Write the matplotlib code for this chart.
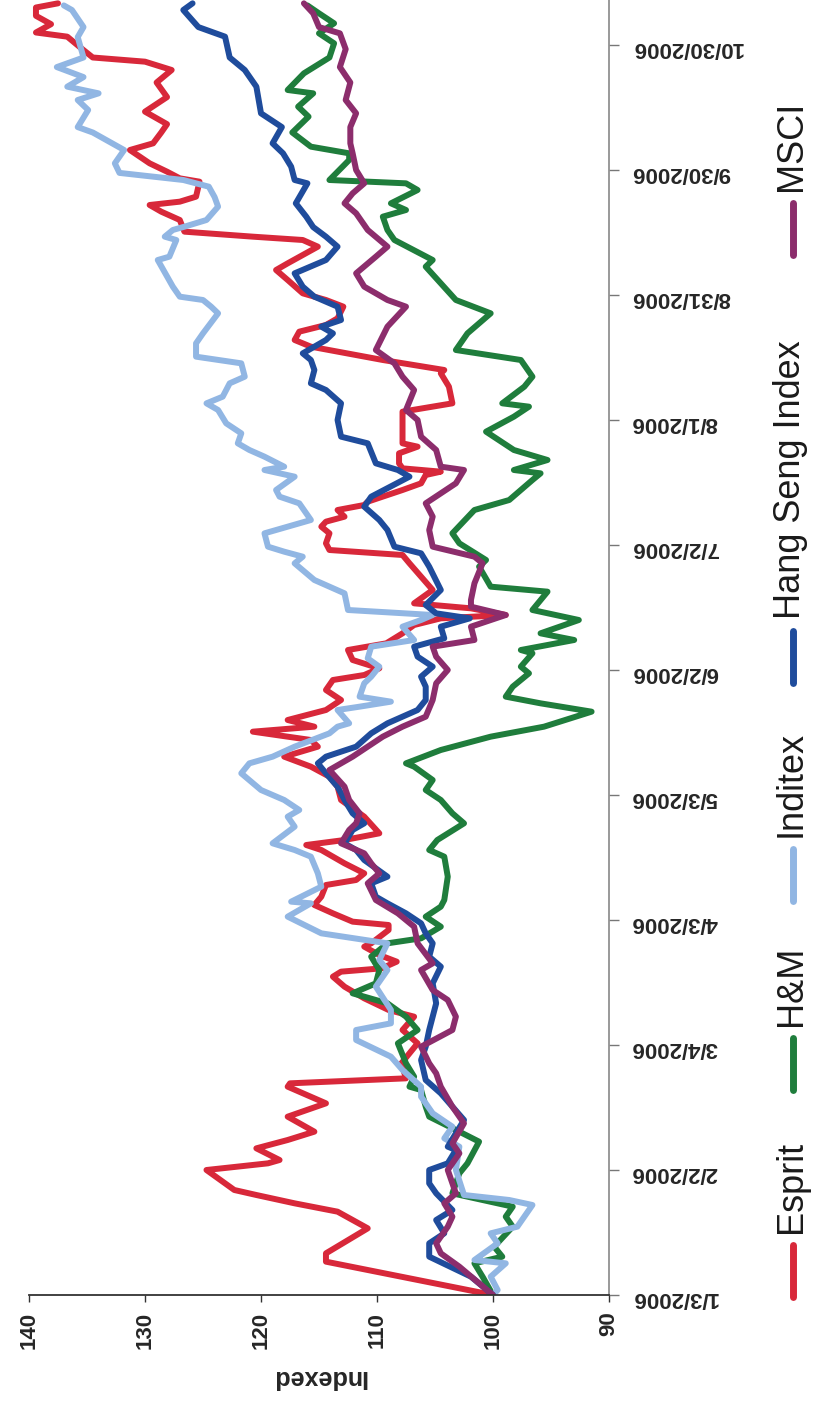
import numpy as np
import pandas as pd
import matplotlib
matplotlib.use('Agg')
import matplotlib.pyplot as plt
from matplotlib.lines import Line2D

plt.rcParams['font.family'] = ['Liberation Sans', 'DejaVu Sans']

start = pd.Timestamp('2006-01-03')

# days after 1/3/2006 and indexed value
esprit_days = [0, 8, 10, 16, 20, 22, 24, 25.2, 30, 31.6, 32.4, 35.2, 37.2, 39.2, 42.8, 46, 50, 50.8, 52,
               55.6, 60.4, 63.6, 66.8, 68.4, 71.2, 74, 76.4, 77.6, 78.4, 80, 81.6, 83.6, 84.4, 87.6, 88.8,
               89.6, 91.6, 93.6, 95.6, 98.4, 99.6, 101.2, 103.6, 106.8, 108, 109.2, 110.8, 114.8, 118.8,
               122, 124.4, 126.8, 129.2, 131.6, 133.2, 135.2, 136.4, 138, 140.4, 142.8, 145.2, 147.6,
               148.8, 150.4, 152.4, 154.8, 156.4, 158.8, 160.8, 162.4, 163.2, 164.8, 166, 169.2, 172.4,
               175.6, 177.6, 178.8, 180.4, 182.8, 184.4, 185.6, 186.8, 188.4, 189.6, 190.4, 193.2, 194.8,
               196.8, 197.6, 198.4, 199.6, 202, 203.6, 204.4, 212, 214, 218, 221.2, 222, 224.4, 227.6,
               229.2, 231.2, 232.8, 234.4, 237.2, 238.8, 240.4, 243.6, 246, 247.6, 249.6, 251.6, 253.2,
               254, 255.2, 258, 260, 261.6, 262.4, 263.6, 267.2, 268, 269.6, 271.6, 274.8, 276.4, 279,
               281, 284, 287.5, 291, 294, 296, 297, 299, 302, 303, 305, 307, 309, 310]
esprit_vals = [100, 114.4, 114.4, 110.8, 113.4, 117.1, 120.4, 122.3, 124.7, 119.4, 118.4, 120.4, 117.7,
               115.4, 117.7, 114.4, 117.7, 117.5, 107.5,
               107.9, 106.5, 107.8, 106.8, 109.0, 111.1, 112.8, 113.8, 113.1, 109.6, 108.3, 109.8, 111.1,
               110.5, 109.0, 109.0, 112.1, 113.8, 115.4, 114.8, 114.4, 111.8, 111.1, 112.8, 114.8, 116.1,
               112.8, 109.8, 111.1, 113.1, 113.4, 114.1, 115.7, 118.0, 115.1, 115.7, 120.7, 115.4, 117.7,
               114.4, 113.1, 114.4, 113.8, 111.1, 109.8, 112.1, 112.5, 109.2, 107.8, 106.8, 104.5, 98.9,
               101.9, 106.8, 105.2, 106.2, 107.2, 107.8, 114.1, 114.4, 114.1, 114.8, 114.4, 112.8, 113.4,
               111.1, 110.8, 107.8, 106.2, 105.8, 104.5, 107.8, 108.1, 108.1, 106.5, 107.8, 107.8, 103.5,
               103.8, 104.5, 104.2, 109.5, 115.7, 117.1, 116.7, 114.4, 113.4, 112.9, 114.4, 116.4, 117.7,
               118.7, 117.7, 116.4, 115.1, 116.4, 120.7, 126.6, 127.0, 128.6, 129.6, 127.0, 125.6, 125.3,
               127.0, 128.1, 129.6, 131.3, 129.3, 128.6, 128.1, 130.0, 128.1, 129.0, 127.7, 130.0, 134.5,
               135.4, 136.7, 139.4, 138.1, 139.4, 139.4, 137.5]

hm_days = [0, 4.4, 7.6, 9.2, 11.6, 16.4, 18.8, 21.2, 24.4, 29.2, 31.6, 36.8, 39.2, 42.8, 45.2, 49.2, 50,
           52.4, 55.6, 60.4, 63.6, 66.8, 70, 72.4, 74.8, 78, 81.2, 84.4, 85.6, 88.4, 90.8, 93.2, 94.8,
           100.4, 105.2, 106.8, 109.2, 113.2, 115.6, 118.8, 121.2, 123.6, 126.8, 127.6, 130.8, 134,
           136.4, 140, 142, 143.6, 146, 149.2, 150.8, 154, 154.8, 157.2, 158.8, 162, 164.4, 168.8, 170,
           174.8, 176.4, 180.4, 182.8, 188.4, 190.8, 195.6, 197.2, 198, 200.4, 202.8, 207.2, 210.8,
           213.2, 214, 218, 220.4, 224.4, 226.8, 230.8, 235.6, 238.8, 242.8, 246.8, 248.4, 253.2, 255.6,
           258.8, 260.4, 262, 265.2, 266.8, 267.6, 272.4, 274, 275.6, 279, 282.8, 285.2, 288.4, 289.2,
           293.2, 297, 300.4, 302.8, 305.2, 307.6, 309.5]
hm_vals = [100, 100.9, 101.6, 99.2, 99.9, 98.3, 98.9, 98.3, 103.5, 102.9, 102.2, 101.2, 102.9, 105.5,
           105.8, 106.2, 107.2, 106.8, 107.5, 108.2, 106.5, 107.5, 109.1, 112.1, 110.1, 109.8, 110.5,
           109.1, 106.2, 104.5, 105.8, 104.5, 104.2, 103.9, 104.2, 105.5, 104.8, 102.5, 103.5, 104.5,
           105.8, 105.2, 106.8, 107.5, 104.5, 100.2, 95.6, 91.5, 95.9, 98.9, 98.3, 96.9, 97.6, 96.6,
           97.6, 93.0, 95.9, 92.6, 96.6, 95.3, 100.2, 101.2, 100.6, 102.9, 103.5, 101.6, 98.6, 96.6,
           95.9, 98.2, 95.3, 98.2, 100.6, 98.2, 96.9, 99.2, 97.3, 96.6, 97.6, 103.2, 102.2, 100.2, 103.2,
           104.5, 105.8, 105.2, 108.5, 109.1, 109.5, 107.5, 108.8, 106.5, 107.5, 114.1, 112.4, 112.4,
           115.7, 117.3, 115.9, 116.8, 115.5, 117.7, 116.3, 114.1, 113.7, 115.0, 113.7, 115.0, 116.0]

inditex_days = [0, 1.2, 4.4, 7.6, 8.4, 9.2, 12.4, 14.8, 16.4, 21.6, 22.8, 24, 30, 35.6, 37.6, 40.4, 43.6,
                47.6, 50, 54, 57.2, 61.2, 63.6, 65.2, 68.4, 74, 78, 80.4, 84.4, 86.8, 90.8, 92.4, 94,
                94.4, 98, 101.2, 105.2, 106.8, 108.4, 112.4, 114.8, 116.4, 118.8, 121.2, 125.2, 127.6,
                129.2, 131.6, 134.8, 136.4, 137.2, 140.4, 141.2, 142.4, 143.6, 146.8, 148.4, 150.8,
                152.8, 155.6, 157.2, 160.4, 162, 163.2, 164.4, 168.4, 171.6, 175.6, 177.2, 178.4, 179.6,
                182.8, 184.4, 186, 190, 191.6, 193.2, 196.4, 198, 198.8, 201.2, 202.8, 204.4, 206.8,
                209.2, 212.4, 214, 215.6, 218.8, 220.4, 223.6, 225.2, 228.4, 230.8, 235.6, 237.2, 238.8,
                239.6, 242, 248.4, 249.2, 253.2, 254, 255.6, 256.4, 258, 261.2, 263.5, 266, 267.6, 269.3,
                271.6, 274.8, 279, 280.3, 284.4, 286.8, 288.4, 290, 292.3, 294.7, 297, 301.9, 304.3,
                308.4, 309.5]
inditex_vals = [100, 99.6, 100.2, 98.9, 101.6, 101.2, 99.6, 100.2, 97.9, 96.6, 98.6, 102.5, 103.2, 102.9,
                104.2, 103.5, 105.2, 106.2, 106.2, 107.8, 108.8, 111.8, 111.8, 108.8, 108.8, 110.1, 109.1,
                109.8, 109.1, 114.8, 117.7, 116.7, 115.7, 117.4, 114.8, 115.1, 115.7, 117.1, 119.0, 117.1,
                117.7, 116.7, 118.0, 120.0, 121.7, 121.0, 119.0, 117.1, 114.1, 113.4, 112.4, 113.4, 111.5,
                108.8, 111.5, 111.1, 110.5, 109.8, 110.8, 110.5, 106.8, 107.8, 106.2, 105.2, 112.5, 112.8,
                115.4, 117.1, 116.4, 118.0, 119.4, 119.7, 117.7, 115.7, 116.7, 118.4, 118.7, 117.1, 119.7,
                118.0, 119.7, 121.0, 122.0, 121.7, 123.0, 123.7, 124.7, 123.3, 122.7, 121.4, 121.7, 125.6,
                125.6, 125.0, 123.7, 124.3, 125.0, 127.0, 127.6, 128.9, 127.9, 127.3, 128.3, 127.6, 126.6,
                124.7, 123.7, 124.0, 124.5, 126.7, 132.2, 132.6, 131.8, 134.5, 135.8, 134.9, 135.8, 134.0,
                136.7, 135.3, 137.6, 135.3, 135.8, 135.3, 136.3, 137.0]

hsi_days = [0, 4.4, 9.2, 12.4, 14.8, 18, 20.4, 24.4, 26.8, 30, 31.6, 34.8, 35.6, 42, 45.2, 48.4, 51.6,
            56.4, 59.6, 63.6, 70, 74.8, 78.8, 81.2, 84.4, 86.8, 89.2, 91.6, 94, 95.6, 98.8, 100.4, 104.4,
            106.8, 108.4, 111.6, 113.2, 115.6, 118.8, 122, 125.2, 127.6, 129.2, 131.6, 134.8, 137.2,
            140.4, 142.8, 146, 148.4, 150.8, 153.2, 155.6, 157.6, 160.4, 162.4, 163.6, 165.6, 169.2,
            174.8, 178, 179.6, 183.6, 186, 189.2, 191.6, 196.4, 198, 199.6, 204.4, 206, 210, 214, 217.2,
            218.8, 222, 224.4, 226, 229.2, 230.8, 232.4, 234, 237.2, 239.6, 242, 245.2, 248.4, 251.6,
            254, 256.3, 258.8, 262, 266.8, 267.6, 270.8, 274, 276.4, 280.3, 283.6, 290, 294, 297, 302,
            304.3, 308.4, 310]
hsi_vals = [100, 101.9, 105.5, 105.5, 104.2, 104.9, 103.5, 104.9, 105.5, 105.5, 103.9, 103.2, 103.9,
            102.5, 103.5, 104.5, 105.8, 106.2, 105.8, 105.5, 104.9, 105.2, 104.5, 105.5, 105.2, 105.8,
            106.2, 107.5, 109.1, 110.1, 110.5, 109.1, 111.1, 111.8, 112.8, 112.1, 111.1, 112.1, 112.8,
            113.4, 114.4, 115.1, 114.4, 111.8, 110.5, 109.1, 106.5, 105.8, 105.8, 106.2, 105.2, 106.5,
            106.8, 104.2, 104.5, 102.0, 104.9, 105.8, 104.5, 105.5, 106.2, 108.5, 109.1, 109.8, 111.1,
            110.5, 107.2, 108.2, 110.1, 110.8, 113.1, 113.4, 113.1, 114.4, 115.7, 115.4, 115.7, 116.4,
            114.4, 113.8, 114.8, 113.1, 113.4, 115.4, 116.4, 117.1, 114.4, 113.4, 114.4, 115.5, 116.1,
            117.0, 116.0, 117.1, 117.4, 118.1, 119.0, 118.2, 120.0, 120.4, 121.4, 122.7, 123.1, 125.4,
            126.7, 125.9]

msci_days = [0, 6.8, 10, 12.4, 16.4, 18.8, 22, 24.4, 30, 34, 36.4, 41.2, 45.2, 50, 53.2, 55.6, 59.6,
             63.6, 66.8, 70.8, 73.2, 78, 79.6, 84.4, 88.4, 91.6, 94.8, 98.8, 101.2, 103.6, 106, 108.4,
             111.6, 113.2, 115.6, 118.8, 122, 126, 129.2, 134, 136.4, 138.8, 142.8, 146.8, 150, 153.2,
             155.6, 157.2, 160.4, 163.2, 165.2, 166.8, 170.8, 175.6, 177.2, 179.6, 183.6, 186.8, 190,
             194.8, 198, 198.8, 202.8, 206, 210, 212.4, 217.2, 220.4, 223.6, 226.8, 232.4, 237.2, 238.8,
             242, 245.2, 249.2, 251.6, 255.6, 259.6, 262, 264.4, 266.8, 270, 274, 276.4, 280.3, 283.6,
             286.8, 291, 294.7, 299, 302.8, 304.3, 307.6, 310]
msci_vals = [100, 102.9, 104.5, 104.9, 103.9, 103.5, 104.2, 103.2, 103.9, 102.9, 103.5, 102.5, 103.5,
             104.5, 104.9, 105.5, 106.2, 103.5, 103.2, 103.9, 105.2, 106.2, 105.2, 106.5, 106.8, 108.2,
             110.1, 110.8, 109.8, 110.5, 111.1, 113.1, 112.4, 111.8, 111.5, 112.4, 112.8, 114.1, 112.1,
             109.5, 107.8, 105.8, 105.2, 104.9, 103.9, 104.9, 105.2, 101.6, 101.9, 98.9, 101.9, 101.9,
             101.6, 100.9, 101.6, 105.2, 105.5, 105.2, 105.8, 103.2, 102.5, 104.5, 104.9, 106.2, 106.5,
             107.5, 106.8, 107.8, 108.5, 110.1, 109.1, 107.5, 109.1, 111.1, 111.8, 110.1, 109.1, 110.8,
             111.8, 112.8, 112.1, 111.1, 111.8, 112.1, 112.3, 112.3, 111.8, 112.7, 112.3, 113.2, 112.7,
             113.2, 115.0, 115.5, 116.3]

date_ticks = ['1/3/2006', '2/2/2006', '3/4/2006', '4/3/2006', '5/3/2006', '6/2/2006',
              '7/2/2006', '8/1/2006', '8/31/2006', '9/30/2006', '10/30/2006']
value_ticks = [140, 130, 120, 110, 100, 90]

series = [
    ('Esprit', esprit_days, esprit_vals, '#d8283a'),
    ('H&M', hm_days, hm_vals, '#1f7d3c'),
    ('Inditex', inditex_days, inditex_vals, '#91b6e3'),
    ('Hang Seng Index', hsi_days, hsi_vals, '#1f4c9c'),
    ('MSCI', msci_days, msci_vals, '#8c2d6c'),
]

# the whole chart is turned a quarter turn: dates run up, values run right-to-left
fig = plt.figure(figsize=(8.19, 14.06), dpi=100)
ax = fig.add_axes([29 / 819, 111 / 1406, 580 / 819, 1295 / 1406])

for name, days, vals, col in series:
    dates = start + pd.to_timedelta(days, unit='D')
    ax.plot(vals, dates, color=col, lw=4.3, solid_joinstyle='round', solid_capstyle='round')

ax.set_xlim(140, 90)
ax.set_ylim(start, start + pd.Timedelta(days=310.8))

ax.set_xticks(value_ticks)
ax.set_xticklabels([str(v) for v in value_ticks], rotation=90, fontsize=16,
                   fontweight='bold', color='#262626')
ax.tick_params(axis='x', direction='out', length=5, width=1, color='#333333', pad=7)

ax.yaxis.tick_right()
ax.set_yticks(pd.to_datetime(date_ticks, format='%m/%d/%Y'))
ax.set_yticklabels(date_ticks, rotation=180, fontsize=16, fontweight='bold', color='#262626')
ax.tick_params(axis='y', direction='out', length=7, width=1, color='#777777', pad=9)

ax.set_xlabel('Indexed', rotation=180, fontsize=18, fontweight='bold', color='#262626', labelpad=12)

for side in ['left', 'top']:
    ax.spines[side].set_visible(False)
ax.spines['right'].set_color('#888888')
ax.spines['right'].set_linewidth(1.2)
ax.spines['bottom'].set_color('#333333')
ax.spines['bottom'].set_linewidth(1.3)

# legend, drawn by hand so the labels can be turned with the chart
leg_x = 793 / 819
leg_bottoms = [1297, 1090, 901, 683, 255]
for (name, days, vals, col), yb in zip(series, leg_bottoms):
    y0 = 1 - yb / 1406
    y1 = 1 - (yb - 52) / 1406
    fig.add_artist(Line2D([leg_x, leg_x], [y0, y1], color=col, lw=5, solid_capstyle='round'))
    fig.text(leg_x - 2 / 819, y1 + 12 / 1406, name, rotation=90, ha='center', va='bottom',
             fontsize=26, color='#1a1a1a')

fig.savefig('out.png', dpi=100)
